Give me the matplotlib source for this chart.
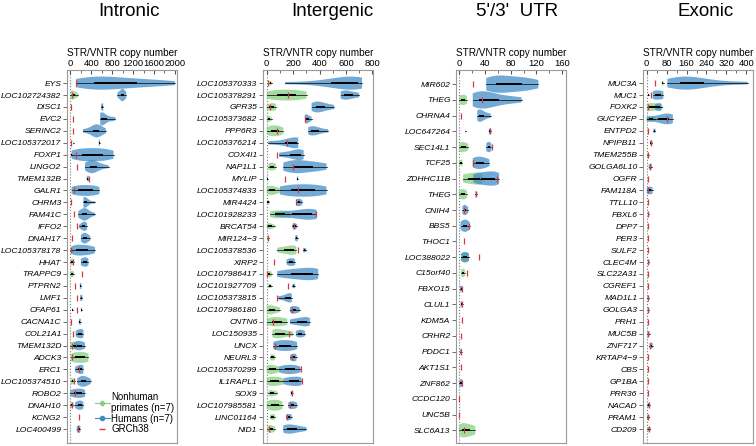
import numpy as np
import matplotlib
matplotlib.use("Agg")
import matplotlib.pyplot as plt
from matplotlib.lines import Line2D
from matplotlib.ticker import MultipleLocator

plt.rcParams['font.family'] = ['Liberation Sans', 'DejaVu Sans']

# ---------------- Intronic ----------------
genes_intronic = ["EYS", "LOC102724382", "DISC1", "EVC2", "SERINC2", "LOC105372017", "FOXP1",
                  "LINGO2", "TMEM132B", "GALR1", "CHRM3", "FAM41C", "IFFO2", "DNAH17",
                  "LOC105378178", "HHAT", "TRAPPC9", "PTPRN2", "LMF1", "CFAP61", "CACNA1C",
                  "COL21A1", "TMEM132D", "ADCK3", "ERC1", "LOC105374510", "ROBO2", "DNAH10",
                  "KCNG2", "LOC400499"]
human_intronic = [
    [110, 250, 400, 480, 560, 700, 850, 1000, 1240, 1400, 1650, 2000],
    [900, 940, 970, 990, 1000, 1010, 1040, 1070],
    [585, 600, 610, 620, 630],
    [570, 580, 590, 600, 610, 640, 700, 780, 860],
    [240, 350, 420, 470, 490, 500, 520, 560, 600, 680],
    [540, 550, 555, 565],
    [25, 120, 220, 320, 420, 520, 620, 720, 825],
    [280, 320, 360, 400, 420, 440, 470, 520, 600, 730],
    [310, 330, 340, 350],
    [25, 110, 200, 290, 380, 470, 555],
    [250, 255, 265, 275, 300, 350, 470],
    [150, 200, 240, 270, 290, 310, 350, 470],
    [170, 220, 250, 270, 290, 320],
    [200, 230, 260, 280, 300, 330, 380],
    [25, 80, 150, 220, 300, 380, 470],
    [200, 230, 260, 290, 320, 345],
    [],
    [180, 190, 200, 210],
    [185, 200, 215, 230],
    [200, 210, 220],
    [160, 175, 190, 200],
    [100, 140, 170, 200, 230, 250],
    [70, 110, 150, 190, 230, 280],
    [],
    [90, 130, 170, 200, 230, 250],
    [130, 180, 220, 250, 280, 330, 390],
    [0, 60, 120, 180, 230, 280],
    [90, 130, 160, 190, 220, 250],
    [],
    [120, 140, 160, 175, 190],
]
nonhuman_intronic = [
    [5, 10, 15], [0, 20, 40, 60, 100, 150], [], [5, 8, 12], [], [50, 55, 60], [10, 20, 30],
    [], [], [10, 20], [], [], [], [], [0, 10, 25, 40], [0, 20, 45, 70], [0, 20, 45, 70],
    [3, 6, 9], [3, 6, 9], [35, 40, 45], [], [3, 6, 9], [0, 30, 60, 100, 153],
    [6, 60, 120, 180, 240, 300, 345], [], [10, 30, 50, 80], [], [0, 20, 40, 60], [3, 6, 9],
    [3, 6, 9],
]
grch38_intronic = [110, 30, 10, 55, 55, 10, 110, 130, 360, 70, 10, 70, 120, 25, 5, 55, 215, 90,
                   120, 120, 10, 55, 25, 40, 160, 70, 90, 25, 165, 150]

# ---------------- Intergenic ----------------
genes_intergenic = ["LOC105370333", "LOC105378291", "GPR35", "LOC105373682", "PPP6R3",
                    "LOC105376214", "COX4I1", "NAP1L1", "MYLIP", "LOC105374833", "MIR4424",
                    "LOC101928233", "BRCAT54", "MIR124\u22123", "LOC105378536", "XIRP2",
                    "LOC107986417", "LOC101927709", "LOC105373815", "LOC107986180", "CNTN6",
                    "LOC150935", "UNCX", "NEURL3", "LOC105370299", "IL1RAPL1", "SOX9",
                    "LOC107985581", "LINC01164", "NID1"]
human_intergenic = [
    [140, 350, 450, 520, 560, 600, 640, 680, 700, 710, 722],
    [560, 580, 600, 620, 660, 700],
    [340, 360, 380, 400, 420, 460, 510],
    [289, 295, 300, 310, 325, 340],
    [315, 330, 350, 370, 400, 465],
    [13, 100, 170, 210, 225, 235, 239],
    [95, 150, 200, 230, 250, 265, 280],
    [126, 170, 200, 230, 260, 300, 350, 400, 453],
    [228, 232, 236],
    [100, 150, 200, 250, 300, 350, 400, 453],
    [225, 235, 245, 255, 270],
    [63, 150, 230, 290, 330, 360, 377],
    [195, 205, 215, 230],
    [215, 222, 230, 235],
    [276, 285, 300],
    [150, 170, 185, 200, 215],
    [80, 150, 200, 250, 300, 340, 370, 390],
    [195, 205, 215],
    [88, 130, 160, 175, 185, 190],
    [176, 195, 210, 225, 250],
    [176, 220, 260, 290, 310, 327],
    [220, 240, 255, 270, 290],
    [50, 80, 110, 140, 170, 200, 230],
    [176, 190, 205, 215, 226],
    [95, 130, 160, 190, 220, 256],
    [126, 160, 190, 220, 250, 264],
    [181, 188, 196],
    [163, 180, 195, 210, 230],
    [146, 160, 175, 190],
    [126, 150, 170, 200, 240, 300],
]
nonhuman_intergenic = [
    [20, 28, 38], [0, 50, 100, 150, 200, 250, 302], [0, 20, 40, 55, 70], [0, 10, 20, 38],
    [0, 20, 40, 60, 80, 100, 126], [], [], [13, 25, 40, 55, 70], [0, 5, 10],
    [0, 15, 30, 50, 70, 100], [0, 10, 20], [25, 60, 100, 140, 176], [0, 15, 30, 60],
    [5, 10, 15], [80, 120, 160, 190, 210, 225], [], [0, 10, 25, 38], [13, 20, 38], [],
    [0, 10, 25, 45, 70, 100], [0, 30, 60, 90, 120, 156], [43, 60, 80, 110, 150, 200], [],
    [25, 40, 50, 63], [0, 15, 30, 50, 75, 100], [0, 20, 45, 70, 100, 126], [13, 30, 50, 80],
    [0, 20, 40, 60, 80, 100, 120], [25, 40, 50, 63], [5, 20, 30, 45, 63],
]
grch38_intergenic = [13, 161, 25, 289, 75, 151, 80, 200, 140, 239, 225, 377, 205, 8, 240, 55, 5,
                     164, 80, 190, 50, 168, 63, 195, 256, 264, 188, 176, 155, 20]

# ---------------- 5'/3' UTR ----------------
genes_utr = ["MIR602", "THEG", "CHRNA4", "LOC647264", "SEC14L1", "TCF25", "ZDHHC11B", "THEG",
             "CNIH4", "BBS5", "THOC1", "LOC388022", "C15orf40", "FBXO15", "CLUL1", "KDM5A",
             "CRHR2", "PDDC1", "AKT1S1", "ZNF862", "CCDC120", "UNC5B", "SLC6A13"]
human_utr = [
    [42, 48, 55, 62, 70, 80, 90, 100, 110, 123],
    [21, 25, 30, 35, 40, 45, 55, 65, 80, 97],
    [28, 30, 32, 35, 40, 49],
    [46, 48, 50],
    [42, 44, 46, 48, 50],
    [21, 25, 30, 35, 40, 47],
    [22, 30, 38, 45, 52, 58, 62],
    [25, 26, 28],
    [5, 7, 9, 11, 14],
    [2, 5, 8, 10, 13, 16],
    [],
    [3, 6, 9, 12, 15],
    [],
    [1, 3, 5],
    [2, 3, 6],
    [],
    [],
    [1, 3, 4],
    [],
    [0, 2, 4, 5],
    [],
    [],
    [],
]
nonhuman_utr = [
    [], [0, 3, 6, 9, 12], [], [9, 10], [0, 3, 6, 10, 14], [0, 3, 5], [6, 12, 20, 28, 33, 36],
    [0, 3, 6, 9, 12], [], [], [], [3, 6, 9, 12, 15], [3, 5, 7, 9], [], [], [], [], [], [],
    [], [], [], [0, 3, 6, 10, 15, 20, 25],
]
grch38_utr = [21, 35, 3, 48, 51, 21, 58, 26, 8, 15, 7, 31, 12, 4, 4, 4, 3, 3, 3, 4, 0, 0, 8]

# ---------------- Exonic ----------------
genes_exonic = ["MUC3A", "MUC1", "FOXK2", "GUCY2EP", "ENTPD2", "NPIPB11", "TMEM255B",
                "GOLGA6L10", "OGFR", "FAM118A", "TTLL10", "FBXL6", "DPP7", "PER3", "SULF2",
                "CLEC4M", "SLC22A31", "CGREF1", "MAD1L1", "GOLGA3", "PRH1", "MUC5B", "ZNF717",
                "KRTAP4\u22129", "CBS", "GP1BA", "PRR36", "NACAD", "PRAM1", "CD209"]
human_exonic = [
    [83, 110, 130, 150, 165, 180, 200, 240, 300, 405],
    [24, 30, 40, 50, 60, 67],
    [34, 40, 48, 55, 60],
    [0, 30, 60, 75, 85, 95, 105],
    [27, 31, 35],
    [13, 17, 23],
    [],
    [8, 13, 17, 21],
    [],
    [0, 6, 12, 18, 24],
    [],
    [5, 8],
    [],
    [],
    [],
    [5, 8, 11],
    [],
    [],
    [3, 6, 9],
    [4, 7, 10],
    [],
    [3, 7, 12],
    [11, 15, 20, 24],
    [],
    [],
    [],
    [],
    [5, 9, 13],
    [3, 7, 11],
    [6, 10, 15],
]
nonhuman_exonic = [
    [60, 64, 68], [5, 8], [0, 10, 25, 40, 60], [0, 10, 20, 34], [], [], [2, 5, 8], [], [],
    [], [], [], [], [], [], [], [], [], [], [], [], [], [], [], [], [], [], [2, 5, 8],
    [2, 5, 8], [2, 5, 8],
]
grch38_exonic = [34, 17, 7, 83, 7, 16, 7, 13, 7, 4, 4, 7, 7, 7, 5, 7, 5, 5, 5, 7, 5, 5, 13, 5,
                 4, 5, 5, 9, 7, 9]

BLUE = '#3d8ac6'
GREEN = '#86cf7f'
RED = '#d8383d'


def draw_group(ax, data, color, alpha):
    for i, vals in enumerate(data):
        if len(vals) < 2:
            continue
        w = min(1.1, 0.13 * len(vals))
        parts = ax.violinplot([vals], positions=[i], widths=w, orientation='horizontal',
                              showextrema=False)
        for b in parts['bodies']:
            b.set_facecolor(color)
            b.set_edgecolor('none')
            b.set_alpha(alpha)
        q1, q3 = np.percentile(vals, [25, 75])
        ax.plot([min(vals), max(vals)], [i, i], color='black', lw=0.5)
        ax.plot([q1, q3], [i, i], color='black', lw=1.4, solid_capstyle='butt')


def draw_panel(ax, genes, human, nonhuman, ref, xlim, major, minor):
    n = len(genes)
    ax.axvline(0, color='#777777', ls=':', lw=0.8, zorder=0)
    draw_group(ax, nonhuman, GREEN, 0.75)
    draw_group(ax, human, BLUE, 0.72)
    ax.plot(ref, range(n), ls='none', marker='|', ms=4.5, mew=0.9, color=RED, zorder=5)
    ax.set_xlim(*xlim)
    if n > 25:
        ax.set_ylim(30.17, -1.1)
    else:
        ax.set_ylim(22.81, -0.9)
    ax.set_yticks(range(n))
    ax.set_yticklabels(genes, fontstyle='italic', fontsize=6.1)
    ax.xaxis.tick_top()
    ax.xaxis.set_label_position('top')
    ax.xaxis.set_major_locator(MultipleLocator(major))
    ax.xaxis.set_minor_locator(MultipleLocator(minor))
    ax.set_xlabel('STR/VNTR copy number', fontsize=7.2, labelpad=2)
    ax.tick_params(axis='x', which='both', direction='in', labelsize=6.8, pad=1.5,
                   color='#555555')
    ax.tick_params(axis='x', which='major', length=3)
    ax.tick_params(axis='x', which='minor', length=2)
    ax.tick_params(axis='y', length=3, width=0.6, pad=1, color='#555555')
    for s in ax.spines.values():
        s.set_color('#999999')
        s.set_linewidth(0.8)


fig = plt.figure(figsize=(7.56, 4.46), dpi=100)
W, H = 756.0, 446.0
lefts = [67, 263, 456, 643]
axes = [fig.add_axes([l / W, 3 / H, 110 / W, (443 - 70) / H]) for l in lefts]

draw_panel(axes[0], genes_intronic, human_intronic, nonhuman_intronic, grch38_intronic,
           (-65, 2040), 400, 200)
draw_panel(axes[1], genes_intergenic, human_intergenic, nonhuman_intergenic, grch38_intergenic,
           (-28, 805), 200, 100)
draw_panel(axes[2], genes_utr, human_utr, nonhuman_utr, grch38_utr, (-5, 166), 40, 20)
draw_panel(axes[3], genes_exonic, human_exonic, nonhuman_exonic, grch38_exonic,
           (-15, 427), 80, 40)

titles = ["Intronic", "Intergenic", "5'/3'  UTR", "Exonic"]
title_x = [129, 332, 517, 706]
for t, x in zip(titles, title_x):
    fig.text(x / W, 1 - 12 / H, t, fontsize=13.5, ha='center', va='center')

handles = [
    Line2D([], [], color=GREEN, marker='D', ms=2.5, lw=0.8),
    Line2D([], [], color=BLUE, marker='o', ms=3, lw=0.8),
    Line2D([], [], color=RED, marker='_', ms=5, mew=1, ls='none'),
]
axes[0].legend(handles, ["Nonhuman\nprimates (n=7)", "Humans (n=7)", "GRCh38"],
               loc='lower right', bbox_to_anchor=(1.04, 0.005), frameon=False, fontsize=7,
               handlelength=1.5, handletextpad=0.2, labelspacing=0.05, borderpad=0.2)

fig.savefig('out.png', dpi=100)
